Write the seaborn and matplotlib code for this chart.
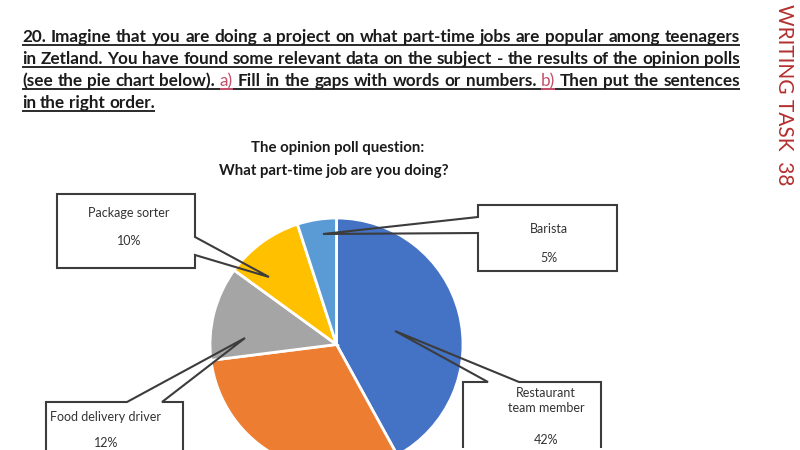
import matplotlib
matplotlib.use("Agg")
import matplotlib.pyplot as plt
import seaborn as sns
from matplotlib.patches import Polygon

# ---------------- data ----------------
jobs = ["Restaurant team member", "Other", "Food delivery driver", "Package sorter", "Barista"]
shares = [42, 31, 12, 10, 5]
pie_colors = ["#4472C4", "#ED7D31", "#A5A5A5", "#FFC000", "#5B9BD5"]

callout_labels = {
    "Package sorter": ["Package sorter", "", "10%"],
    "Barista": ["Barista", "", "5%"],
    "Restaurant team member": ["Restaurant", "team member", "", "42%"],
    "Food delivery driver": ["Food delivery driver", "", "12%"],
}

title_lines = ["The opinion poll question:", "What part-time job are you doing?"]
header_lines = [
    "20. Imagine that you are doing a project on what part-time jobs are popular among teenagers",
    "in Zetland. You have found some relevant data on the subject - the results of the opinion polls",
    "(see the pie chart below). a) Fill in the gaps with words or numbers. b) Then put the sentences",
    "in the right order.",
]
pink_words = ["a)", "b)"]
side_label = "WRITING TASK  38"

# ---------------- figure ----------------
sns.set_theme(style="white")
plt.rcParams['font.family'] = ['Lato', 'DejaVu Sans']

fig = plt.figure(figsize=(8, 4.5), dpi=100)
fig.patch.set_facecolor("white")
ax = fig.add_axes([0, 0, 1, 1])
ax.set_xlim(0, 800)
ax.set_ylim(0, 450)
ren = fig.canvas.get_renderer()


def Y(py):
    return 450 - py


def text_width(s, **kw):
    t = ax.text(0, 0, s, **kw)
    w = t.get_window_extent(ren).width
    t.remove()
    return w


# ---- header paragraph (justified, bold, underlined) ----
ink = "#1b1b1b"
pink = "#c4506c"
left, right = 22, 740
base_fs = 10
w_nat = max(text_width(l, fontsize=base_fs, fontweight="bold") for l in header_lines[:3])
hfs = base_fs * (right - left - 2) / w_nat
baselines = [42, 64, 86, 108]
for i, line in enumerate(header_lines):
    words = line.split(" ")
    kws = []
    for w in words:
        if w in pink_words:
            kws.append(dict(fontsize=hfs, fontweight="normal", color=pink))
        else:
            kws.append(dict(fontsize=hfs, fontweight="bold", color=ink))
    widths = [text_width(w, **k) for w, k in zip(words, kws)]
    if i < 3:
        gap = (right - left - sum(widths)) / (len(words) - 1)
    else:
        gap = text_width("a a", fontsize=hfs, fontweight="bold") - 2 * text_width("a", fontsize=hfs, fontweight="bold")
    x = left
    yb = Y(baselines[i])
    for w, k, wd in zip(words, kws, widths):
        ax.text(x, yb, w, ha="left", va="baseline", **k)
        x = x + wd + gap
    line_end = x - gap
    ax.plot([left, line_end], [yb - 3, yb - 3], color="#2a2a2a", lw=1.4, solid_capstyle="butt")
    x = left
    for w, k, wd in zip(words, kws, widths):
        if w in pink_words:
            ax.plot([x, x + wd], [yb - 3, yb - 3], color=pink, lw=1.4, solid_capstyle="butt")
        x += wd + gap

# ---- side label ----
sfs = 10 * 180 / text_width(side_label, fontsize=10)
ax.text(784, Y(95), side_label, rotation=-90, ha="center", va="center",
        fontsize=sfs, color="#b3302f")

# ---- chart title ----
tfs = 10 * 231 / text_width(title_lines[1], fontsize=10, fontweight="bold")
ax.text(338, Y(148), title_lines[0], ha="center", va="center", fontsize=tfs,
        fontweight="bold", color=ink)
ax.text(334, Y(171), title_lines[1], ha="center", va="center", fontsize=tfs,
        fontweight="bold", color=ink)

# ---- pie ----
ax.pie(shares, colors=sns.color_palette(pie_colors), startangle=90, counterclock=False,
       center=(336.5, Y(344.5)), radius=126.5,
       wedgeprops=dict(edgecolor="white", linewidth=2))
ax.set_xlim(0, 800)
ax.set_ylim(0, 450)
ax.set_aspect("equal")
ax.axis("off")

# ---- callouts ----
box_ec = "#3c3c3c"
callouts = {
    "Package sorter": dict(
        shape=[(57, 194), (195, 194), (195, 237), (269, 277), (195, 255), (195, 268), (57, 268)],
        text_xy=(129, 213), step=14),
    "Barista": dict(
        shape=[(478, 205), (617, 205), (617, 271), (478, 271), (478, 233), (323, 234), (478, 217)],
        text_xy=(549, 229), step=14.5),
    "Restaurant team member": dict(
        shape=[(463, 448), (463, 382), (488, 382), (395, 331), (519, 382), (601, 382), (601, 448)],
        text_xy=(546, 393), step=15.5),
    "Food delivery driver": dict(
        shape=[(46, 470), (46, 402), (127, 402), (245, 338), (162, 402), (183, 402), (183, 470)],
        text_xy=(106, 417), step=13),
}
cfs = 10 * 111 / text_width("Food delivery driver", fontsize=10)
for job, spec in callouts.items():
    pts = [(x, Y(y)) for x, y in spec["shape"]]
    closed = job in ("Package sorter", "Barista")
    poly = Polygon(pts, closed=closed, fill=False, edgecolor=box_ec, lw=1.5, zorder=5,
                   joinstyle="miter")
    ax.add_patch(poly)
    tx, ty = spec["text_xy"]
    for j, s in enumerate(callout_labels[job]):
        if s:
            ax.text(tx, Y(ty + j * spec["step"]), s, ha="center", va="center",
                    fontsize=cfs, color="#333333", zorder=6)

fig.savefig("out.png", dpi=100, facecolor="white")
